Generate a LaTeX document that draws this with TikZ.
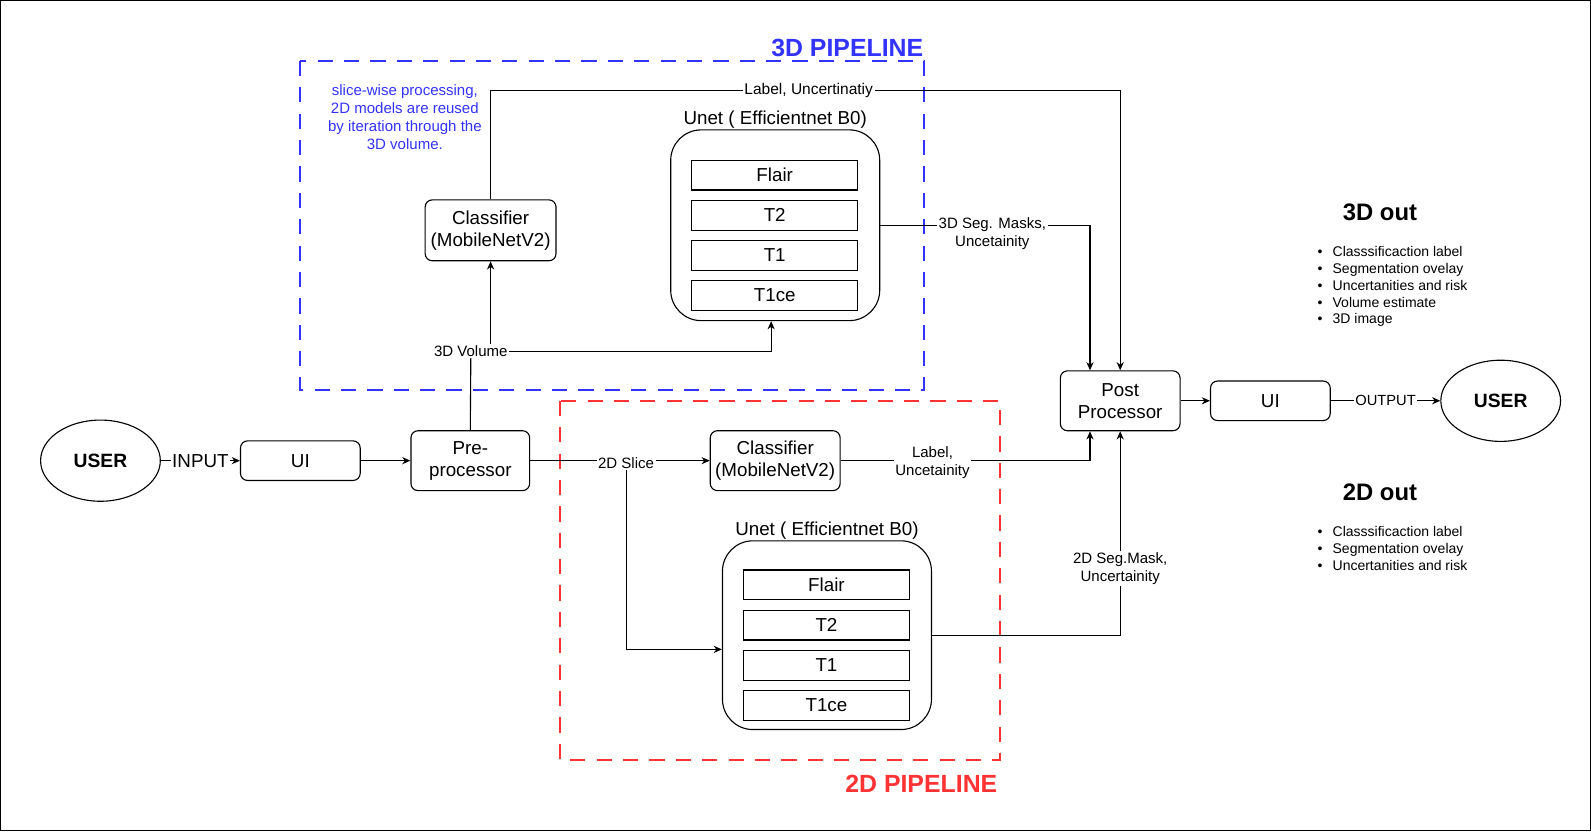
\documentclass[tikz,border=0pt]{standalone}
\usepackage{fontspec}
\setmainfont{Liberation Sans}
\usetikzlibrary{arrows.meta,calc,positioning,shapes.geometric}
\definecolor{ink}{HTML}{000000}
\definecolor{pipeblue}{HTML}{3333FF}
\definecolor{pipered}{HTML}{FF3333}
\newcommand{\setfs}[2]{\fontsize{#1pt}{#2pt}\selectfont}
\tikzset{>={Stealth[length=8pt,width=7pt,inset=2.5pt]},
  box/.style={draw=ink,rounded corners=7pt,align=center,inner sep=0pt,font=\setfs{18.5}{22}},
  chan/.style={draw=ink,rectangle,inner sep=0pt,minimum width=164pt,minimum height=29.5pt,font=\setfs{18.5}{22}},
  unetbox/.style={draw=ink,rounded corners=30pt,inner sep=0pt,minimum width=206pt},
  unettitle/.style={inner sep=0pt,font=\setfs{18.5}{22}},
  userbox/.style={draw=ink,ellipse,minimum width=118pt,minimum height=80pt,inner sep=0pt,font=\bfseries\setfs{19}{22}},
  elab/.style={fill=white,inner sep=1pt,align=center,font=\setfs{14.8}{17.5}},
  pipe/.style={dash pattern=on 15pt off 11pt,line width=2pt},
  pipetitle/.style={font=\bfseries\setfs{24.5}{28}},
  outtitle/.style={font=\bfseries\setfs{23.5}{28}},
  outlist/.style={anchor=west,align=left,inner sep=0pt,font=\setfs{13.8}{16.6}}}

\begin{document}
\begin{tikzpicture}[x=1pt,y=-1pt,line width=1.1pt]
\useasboundingbox (0,0) rectangle (1568,819);
\draw[line width=1pt] (0.5,0.5) rectangle (1567.5,818.5);

% pipeline frames
\draw[pipe,pipeblue] (296,60) rectangle (911,384);
\node[pipetitle,text=pipeblue] (p3title) at (835,47) {3D PIPELINE};
\draw[pipe,pipered] (552,395) rectangle (986,749);
\node[pipetitle,text=pipered] (p2title) at (908,772) {2D PIPELINE};
\node[align=center,text=pipeblue,font=\setfs{14.8}{17.7}] (note) at (399,115.5)
  {slice-wise processing,\\2D models are reused\\by iteration through the\\3D volume.};

% main chain
\node[userbox] (user1) at (99,454) {USER};
\node[box,minimum width=118pt,minimum height=39pt] (ui1) at (296,454) {UI};
\node[box,minimum width=117pt,minimum height=59pt] (pre) at (463.5,454) {Pre-\\processor};
\node[box,minimum width=118pt,minimum height=59pt] (post) at (1104,395) {Post\\Processor};
\node[box,minimum width=118pt,minimum height=39pt] (ui2) at (1252,395) {UI};
\node[userbox] (user2) at (1479,395) {USER};

% 3D branch
\node[box,minimum width=129pt,minimum height=60pt] (cls3) at (483.5,227) {Classifier\\(MobileNetV2)};
\node[unetbox,minimum height=188pt] (unet3) at (764,222) {};
\node[unettitle,above=0pt of unet3] (unet3t) {Unet ( Efficientnet B0)};
\foreach \n/\t [count=\i from 0] in {fl3/Flair,ta3/T2,tb3/T1,tc3/T1ce}
  \node[chan] (\n) at (763.5,172.5+39.5*\i) {\t};

% 2D branch
\node[box,minimum width=128pt,minimum height=59pt] (cls2) at (764,454) {Classifier\\(MobileNetV2)};
\node[unetbox,minimum height=186pt] (unet2) at (815,626) {};
\node[unettitle,above=0pt of unet2] (unet2t) {Unet ( Efficientnet B0)};
\foreach \n/\t [count=\i from 0] in {fl2/Flair,ta2/T2,tb2/T1,tc2/T1ce}
  \node[chan] (\n) at (814.5,576.5+39.5*\i) {\t};

% edge labels
\node[elab] (vol) at (464,346) {3D Volume};
\node[elab] (slice) at (617,456) {2D Slice};
\node[elab,font=\setfs{15.3}{18}] (lblc3) at (797,89.5) {Label, Uncertinatiy};
\node[elab] (lblm3) at (978,230.5) {3D Seg. Masks,\\Uncetainity};
\node[elab] (lblc2) at (919,456) {Label,\\Uncetainity};
\node[elab] (lblm2) at (1104,560.5) {2D Seg.Mask,\\Uncertainity};
\coordinate (postnq) at ($(post.north west)!0.25!(post.north east)$);
\coordinate (postsq) at ($(post.south west)!0.25!(post.south east)$);

% connectors
\draw[->] (user1) -- node[elab,font=\setfs{18.5}{22}] (inlbl) {INPUT} (ui1);
\draw[->] (ui1) -- (pre);
\draw (pre.north) -- (vol.south);
\draw[->] (vol.north -| cls3.south) -- (cls3.south);
\draw[->] (vol.east) -| ([xshift=-4pt]unet3.south);
\draw (cls3.north) |- (lblc3.west);
\draw[->] (lblc3.east) -| (post.north);
\draw (unet3.east) -- (unet3.east -| lblm3.west);
\draw[->] (unet3.east -| lblm3.east) -| (postnq);
\draw (pre.east) -- (slice.west |- pre.east);
\draw[->] (slice.east |- pre.east) -- (cls2.west);
\draw[->] (slice.south) |- ([yshift=-14pt]unet2.west);
\draw (cls2.east) -- (cls2.east -| lblc2.west);
\draw[->] (cls2.east -| lblc2.east) -| (postsq);
\draw (unet2.east) -| (lblm2.south);
\draw[->] (lblm2.north) -- (post.south);
\draw[->] (post) -- (ui2);
\draw[->] (ui2) -- node[elab,font=\setfs{14.5}{17}] (outlbl) {OUTPUT} (user2);

% outputs
\node[outtitle] (out3) at (1360,209) {3D out};
\node[outlist] (out3list) at (1298,282.5) {\textbullet\hspace{10pt}Classsificaction label\\
  \textbullet\hspace{10pt}Segmentation ovelay\\\textbullet\hspace{10pt}Uncertanities and risk\\
  \textbullet\hspace{10pt}Volume estimate\\\textbullet\hspace{10pt}3D image};
\node[outtitle] (out2) at (1360,485) {2D out};
\node[outlist] (out2list) at (1298,540.5) {\textbullet\hspace{10pt}Classsificaction label\\
  \textbullet\hspace{10pt}Segmentation ovelay\\\textbullet\hspace{10pt}Uncertanities and risk};
\end{tikzpicture}
\end{document}
